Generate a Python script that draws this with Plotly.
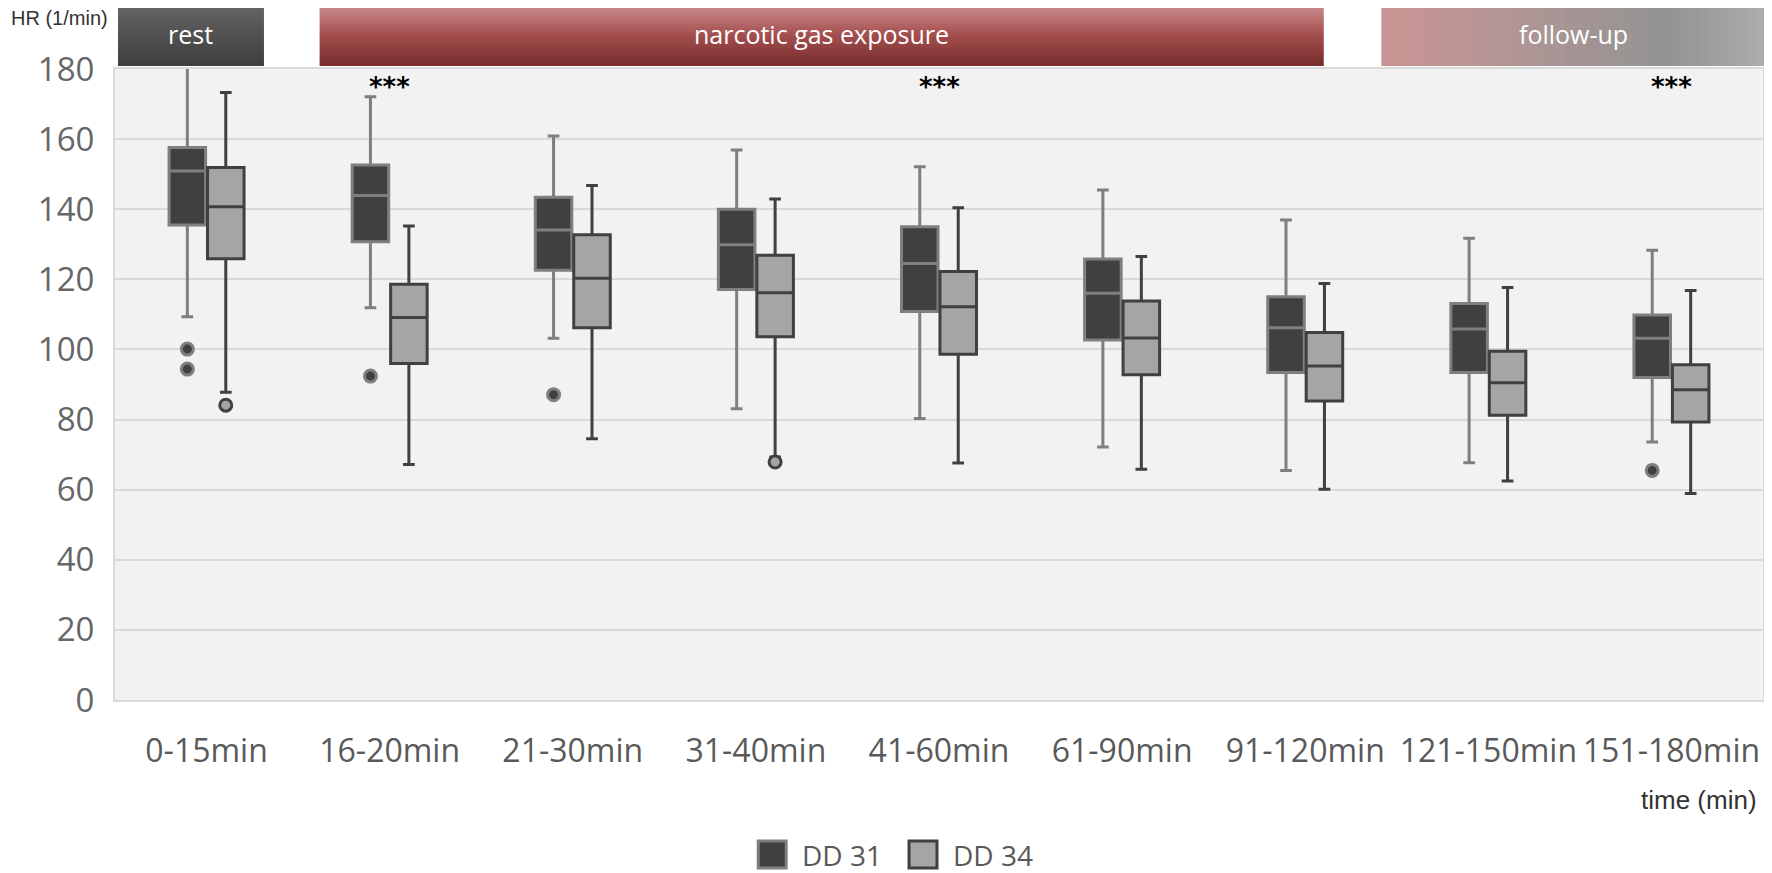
import base64
import plotly.graph_objects as go

# ---------------- data ----------------
categories = ["0-15min", "16-20min", "21-30min", "31-40min", "41-60min",
              "61-90min", "91-120min", "121-150min", "151-180min"]

dd31_upper = [185.0, 172.1, 160.9, 156.9, 152.1, 145.5, 136.9, 131.7, 128.3]
dd31_q3 = [157.6, 152.6, 143.4, 140.0, 135.0, 125.8, 115.0, 113.1, 109.8]
dd31_median = [150.9, 143.9, 134.1, 129.9, 124.5, 116.0, 106.2, 105.8, 103.2]
dd31_q1 = [135.5, 130.7, 122.6, 117.1, 110.8, 102.7, 93.4, 93.4, 92.0]
dd31_lower = [109.3, 111.9, 103.2, 83.1, 80.3, 72.2, 65.5, 67.7, 73.6]
dd31_outliers = [[100.1, 94.4], [92.4], [87.1], [], [], [], [], [], [65.5]]

dd34_upper = [173.3, 135.2, 146.8, 142.9, 140.4, 126.5, 118.8, 117.7, 116.8]
dd34_q3 = [151.9, 118.6, 132.7, 126.9, 122.2, 113.8, 104.8, 99.5, 95.6]
dd34_median = [140.7, 109.1, 120.3, 116.2, 112.2, 103.3, 95.3, 90.5, 88.5]
dd34_q1 = [125.9, 96.0, 106.2, 103.6, 98.6, 92.8, 85.3, 81.2, 79.3]
dd34_lower = [87.8, 67.2, 74.5, 69.3, 67.6, 65.8, 60.1, 62.5, 58.9]
dd34_outliers = [[84.1], [], [], [67.9], [], [], [], [], []]

significant = ["16-20min", "41-60min", "151-180min"]
sig_label = "***"

phases = ["rest", "narcotic gas exposure", "follow-up"]
y_ticks = [0, 20, 40, 60, 80, 100, 120, 140, 160, 180]

# ---------------- layout constants (page pixels) ----------------
PAGE_W, PAGE_H = 1772, 873
OFF = 8                      # default body margin of the html page
W, H = PAGE_W - OFF, PAGE_H - OFF
PL, PR, PT, PB = 115, 1765, 69, 700
PW, PH = PR - PL, PB - PT


def px(x):
    return (x - PL) / PW


def py(y):
    return (PB - y) / PH


DARK = "#404040"
GRAY = "#7f7f7f"
LIGHT = "#a5a5a5"
TXT = "#595959"

fig = go.Figure()

fig.add_trace(go.Box(
    name="DD 31", x=categories, y=dd31_outliers,
    q1=dd31_q1, median=dd31_median, q3=dd31_q3,
    lowerfence=dd31_lower, upperfence=dd31_upper,
    boxpoints="outliers", fillcolor=DARK,
    line=dict(color=GRAY, width=3), whiskerwidth=0.32,
    marker=dict(color=DARK, size=12, line=dict(color=GRAY, width=3)),
    showlegend=False, hoverinfo="skip",
))
fig.add_trace(go.Box(
    name="DD 34", x=categories, y=dd34_outliers,
    q1=dd34_q1, median=dd34_median, q3=dd34_q3,
    lowerfence=dd34_lower, upperfence=dd34_upper,
    boxpoints="outliers", fillcolor=LIGHT,
    line=dict(color=DARK, width=3), whiskerwidth=0.32,
    marker=dict(color=LIGHT, size=12, line=dict(color=DARK, width=3)),
    showlegend=False, hoverinfo="skip",
))

shapes = []
annotations = []
images = []


def hex_to_rgb(h):
    h = h.lstrip("#")
    return tuple(int(h[i:i + 2], 16) for i in (0, 2, 4))


def lerp_stops(stops, t):
    for (t0, c0), (t1, c1) in zip(stops[:-1], stops[1:]):
        if t <= t1:
            f = 0 if t1 == t0 else (t - t0) / (t1 - t0)
            a, b = hex_to_rgb(c0), hex_to_rgb(c1)
            return "rgb(%d,%d,%d)" % tuple(round(a[k] + (b[k] - a[k]) * f) for k in range(3))
    return stops[-1][1]


def gradient_bar(x0, x1, y0, y1, stops, vertical=True, n=24):
    # fallback stripes
    for i in range(n):
        t = (i + 0.5) / n
        col = lerp_stops(stops, t)
        if vertical:
            ya = y0 + (y1 - y0) * i / n
            yb = min(y0 + (y1 - y0) * (i + 1) / n + 1.5, y1)
            shapes.append(dict(type="rect", xref="paper", yref="paper",
                               x0=px(x0), x1=px(x1), y0=py(ya), y1=py(yb),
                               fillcolor=col, line=dict(width=0), layer="above"))
        else:
            xa = x0 + (x1 - x0) * i / n
            xb = min(x0 + (x1 - x0) * (i + 1) / n + 1.5, x1)
            shapes.append(dict(type="rect", xref="paper", yref="paper",
                               x0=px(xa), x1=px(xb), y0=py(y0), y1=py(y1),
                               fillcolor=col, line=dict(width=0), layer="above"))
    # smooth gradient as an svg image on top
    x2, y2 = ("0", "1") if vertical else ("1", "0")
    stop_xml = "".join('<stop offset="%g" stop-color="%s"/>' % (o, c) for o, c in stops)
    svg = ('<svg xmlns="http://www.w3.org/2000/svg" width="100" height="100" '
           'preserveAspectRatio="none"><defs><linearGradient id="g" x1="0" y1="0" '
           'x2="%s" y2="%s">%s</linearGradient></defs>'
           '<rect width="100" height="100" fill="url(#g)"/></svg>') % (x2, y2, stop_xml)
    src = "data:image/svg+xml;base64," + base64.b64encode(svg.encode()).decode()
    images.append(dict(source=src, xref="paper", yref="paper",
                       x=px(x0), y=py(y0), sizex=px(x1) - px(x0), sizey=py(y0) - py(y1),
                       xanchor="left", yanchor="top", sizing="stretch", layer="above"))


BAR_T, BAR_B = 3, 66
bar_spans = [(118, 264), (320, 1325), (1383, 1768)]
gradient_bar(*bar_spans[0], BAR_T, BAR_B, [(0, "#666666"), (1, "#3e3e3e")])
gradient_bar(*bar_spans[1], BAR_T, BAR_B, [(0, "#cc9292"), (0.5, "#a54f4f"), (1, "#762b2b")])
gradient_bar(*bar_spans[2], BAR_T, BAR_B,
             [(0, "#cc9494"), (0.4, "#ad9595"), (0.75, "#939393"), (1, "#adadad")],
             vertical=False, n=40)

for label, (xa, xb) in zip(phases, bar_spans):
    annotations.append(dict(text=label, xref="paper", yref="paper",
                            x=px((xa + xb) / 2), y=py(34), xanchor="center", yanchor="middle",
                            showarrow=False,
                            font=dict(family="Open Sans", size=25, color="white")))

for c in significant:
    annotations.append(dict(text=sig_label, x=c, y=175, xref="x", yref="y",
                            showarrow=False, yanchor="middle",
                            font=dict(family="DejaVu Sans", size=26, color="black",
                                      weight="bold")))

annotations.append(dict(text="HR (1/min)", xref="paper", yref="paper",
                        x=px(OFF + 1), y=py(18), xanchor="left", yanchor="middle",
                        showarrow=False,
                        font=dict(family="Liberation Sans", size=20, color="#333333")))
annotations.append(dict(text="time (min)", xref="paper", yref="paper",
                        x=px(1761), y=py(800), xanchor="right", yanchor="middle", showarrow=False,
                        font=dict(family="Liberation Sans", size=26, color="#333333")))

# legend (manual swatches)
for name, fill, edge, sx in [("DD 31", DARK, GRAY, 759), ("DD 34", LIGHT, DARK, 910)]:
    shapes.append(dict(type="rect", xref="paper", yref="paper",
                       x0=px(sx), x1=px(sx + 28), y0=py(841), y1=py(868),
                       fillcolor=fill, line=dict(color=edge, width=3)))
    annotations.append(dict(text=name, xref="paper", yref="paper",
                            x=px(sx + 42), y=py(855), xanchor="left", yanchor="middle",
                            showarrow=False,
                            font=dict(family="Open Sans", size=28, color=TXT)))

fig.update_layout(
    width=W, height=H,
    margin=dict(l=PL - OFF, r=PAGE_W - PR, t=PT - OFF, b=PAGE_H - PB, pad=0),
    paper_bgcolor="white", plot_bgcolor="#f2f2f2",
    boxmode="group", boxgap=0.58, boxgroupgap=0.05,
    shapes=shapes, annotations=annotations, images=images,
    showlegend=False,
    font=dict(family="Open Sans", color=TXT),
)
fig.update_xaxes(
    type="category", categoryorder="array", categoryarray=categories,
    range=[-0.5, len(categories) - 0.5],
    showgrid=False, showline=True, mirror=True, linecolor="#dadada", linewidth=2,
    ticks="", ticklabelstandoff=22,
    tickfont=dict(family="Open Sans", size=32, color=TXT),
)
fig.update_yaxes(
    range=[0, 180], tickvals=y_ticks,
    showgrid=True, gridcolor="#d9d9d9", gridwidth=2,
    zeroline=True, zerolinecolor="#d9d9d9", zerolinewidth=2,
    showline=True, mirror=True, linecolor="#dadada", linewidth=2,
    ticks="", ticklabelstandoff=12,
    tickfont=dict(family="Open Sans", size=33, color="#666666"),
)

fig.write_html("out.html")
